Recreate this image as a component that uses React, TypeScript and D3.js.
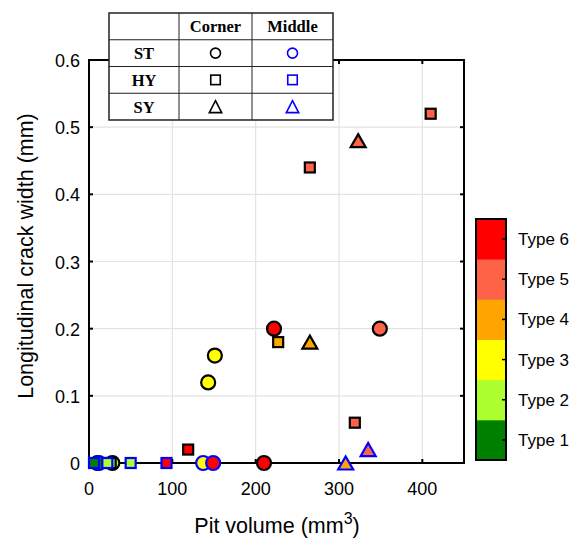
import React from 'react';
import * as d3 from 'd3';

// pit volume (mm3), crack width (mm), pit type, pit shape, pit location
const pitVolume = [10, 12, 6, 28, 26, 22, 50, 93, 119, 137, 149, 210, 143, 151, 222, 227, 265, 349, 319, 335, 308, 265, 323, 410];
const crackWidth = [0, 0, 0, 0, 0, 0, 0, 0, 0.02, 0, 0, 0, 0.12, 0.16, 0.2, 0.18, 0.18, 0.2, 0.06, 0.02, 0, 0.44, 0.48, 0.52];
const pitType = [1, 1, 1, 2, 2, 2, 2, 6, 6, 3, 6, 6, 3, 3, 6, 4, 4, 5, 5, 5, 4, 5, 5, 5];
const pitShape = ['ST', 'ST', 'HY', 'ST', 'HY', 'HY', 'HY', 'HY', 'HY', 'ST', 'ST', 'ST', 'ST', 'ST', 'ST', 'HY', 'SY', 'ST', 'HY', 'SY', 'SY', 'HY', 'SY', 'HY'];
const pitPlace = ['Corner', 'Middle', 'Middle', 'Corner', 'Corner', 'Middle', 'Middle', 'Middle', 'Corner', 'Middle', 'Middle', 'Corner', 'Corner', 'Corner', 'Corner', 'Corner', 'Corner', 'Corner', 'Corner', 'Middle', 'Middle', 'Corner', 'Corner', 'Corner'];

const typeNames = ['Type 1', 'Type 2', 'Type 3', 'Type 4', 'Type 5', 'Type 6'];
const typeColors = ['#008000', '#adff2f', '#ffff00', '#ffa500', '#ff6347', '#ff0000'];
const xTicks = [0, 100, 200, 300, 400];
const yTicks = [0, 0.1, 0.2, 0.3, 0.4, 0.5, 0.6];
const shapeRows = ['ST', 'HY', 'SY'];
const placeCols = ['Corner', 'Middle'];

const W = 586, H = 538;
const m = {left: 89, top: 60, right: 464, bottom: 463};
const font = 'Arial, "Liberation Sans", sans-serif';
const serif = '"Times New Roman", "Liberation Serif", serif';

// circle diameter d, square side s, triangle half width hw / height h
const Marker = ({kind, x, y, d, s, hw, h, fill, stroke, sw}) => {
    if (kind === 'ST') {
        return <circle cx={x} cy={y} r={d / 2} fill={fill} stroke={stroke} strokeWidth={sw}/>;
    }
    if (kind === 'HY') {
        return <rect x={x - s / 2} y={y - s / 2} width={s} height={s} fill={fill} stroke={stroke} strokeWidth={sw}/>;
    }
    const p = `M${x},${y - h / 2}L${x + hw},${y + h / 2}L${x - hw},${y + h / 2}Z`;
    return <path d={p} fill={fill} stroke={stroke} strokeWidth={sw}/>;
};

export default function App() {
    const x = d3.scaleLinear().domain([0, 450]).range([m.left, m.right]);
    const y = d3.scaleLinear().domain([0, 0.6]).range([m.bottom, m.top]);

    const cb = {x: 476, w: 30, top: 219, bottom: 460};
    const cy = d3.scaleBand().domain(typeNames).range([cb.bottom, cb.top]);

    const colX = d3.scaleOrdinal().domain(['label', ...placeCols]).range([109, 179, 252]);
    const colW = {label: 70, Corner: 73, Middle: 81};
    const rowY = d3.scaleBand().domain(['head', ...shapeRows]).range([13, 120]);

    const points = pitVolume.map((v, i) => ({
        v, w: crackWidth[i], t: pitType[i], s: pitShape[i], p: pitPlace[i]
    }));

    return (
        <svg width={W} height={H} style={{position: 'absolute', left: 0, top: 0}}>
            <rect width={W} height={H} fill="#fff"/>
            {/* grid */}
            {xTicks.slice(1).map(t => (
                <line key={'gx' + t} x1={x(t)} x2={x(t)} y1={m.top} y2={m.bottom} stroke="#e3e3e3" strokeWidth={1.2}/>
            ))}
            {yTicks.slice(1, -1).map(t => (
                <line key={'gy' + t} x1={m.left} x2={m.right} y1={y(t)} y2={y(t)} stroke="#e3e3e3" strokeWidth={1.2}/>
            ))}
            {/* ticks */}
            {xTicks.map(t => (
                <g key={'tx' + t}>
                    <line x1={x(t)} x2={x(t)} y1={m.bottom} y2={m.bottom - 4} stroke="#000" strokeWidth={2}/>
                    <line x1={x(t)} x2={x(t)} y1={m.top} y2={m.top + 4} stroke="#000" strokeWidth={2}/>
                    <text x={x(t)} y={m.bottom + 32} textAnchor="middle" fontFamily={font} fontSize={18}>{t}</text>
                </g>
            ))}
            {yTicks.map(t => (
                <g key={'ty' + t}>
                    <line x1={m.left} x2={m.left + 4} y1={y(t)} y2={y(t)} stroke="#000" strokeWidth={2}/>
                    <line x1={m.right} x2={m.right - 4} y1={y(t)} y2={y(t)} stroke="#000" strokeWidth={2}/>
                    <text x={m.left - 9} y={y(t) + 7} textAnchor="end" fontFamily={font} fontSize={18}>{t === 0 ? '0' : d3.format('.1f')(t)}</text>
                </g>
            ))}
            <rect x={m.left} y={m.top} width={m.right - m.left} height={m.bottom - m.top} fill="none" stroke="#000" strokeWidth={2}/>
            {/* points */}
            {points.map((d, i) => (
                <Marker key={i} kind={d.s} x={x(d.v)} y={y(d.w)} d={14} s={10} hw={7.5} h={13}
                        fill={typeColors[d.t - 1]} stroke={d.p === 'Corner' ? '#000' : '#0000ff'} sw={2.2}/>
            ))}
            {/* axis labels */}
            <text x={277} y={533} textAnchor="middle" fontFamily={font} fontSize={21.5}>
                Pit volume (mm<tspan dy={-9} fontSize={16}>3</tspan><tspan dy={9}>)</tspan>
            </text>
            <text transform={`translate(33,256) rotate(-90)`} textAnchor="middle" fontFamily={font} fontSize={21.5}>
                Longitudinal crack width (mm)
            </text>
            {/* colorbar */}
            {typeNames.map((n, i) => (
                <g key={n}>
                    <rect x={cb.x} y={cy(n)} width={cb.w} height={cy.bandwidth() + 0.5} fill={typeColors[i]}/>
                    <line x1={cb.x + cb.w} x2={cb.x + cb.w - 4} y1={cy(n) + cy.bandwidth() / 2} y2={cy(n) + cy.bandwidth() / 2} stroke="#000" strokeWidth={1.5}/>
                    <text x={cb.x + cb.w + 12} y={cy(n) + cy.bandwidth() / 2 + 6} fontFamily={font} fontSize={17}>{n}</text>
                </g>
            ))}
            <rect x={cb.x} y={cb.top} width={cb.w} height={cb.bottom - cb.top} fill="none" stroke="#000" strokeWidth={2}/>
            {/* shape table */}
            <rect x={109} y={13} width={224} height={107} fill="#fff" stroke="none"/>
            {shapeRows.map(r => (
                <line key={'rl' + r} x1={109} x2={333} y1={rowY(r)} y2={rowY(r)} stroke="#222" strokeWidth={1}/>
            ))}
            {placeCols.map(c => (
                <line key={'cl' + c} x1={colX(c)} x2={colX(c)} y1={13} y2={120} stroke="#222" strokeWidth={1}/>
            ))}
            <rect x={109} y={13} width={224} height={107} fill="none" stroke="#222" strokeWidth={1.5}/>
            {placeCols.map(c => (
                <text key={'h' + c} x={colX(c) + colW[c] / 2} y={rowY('head') + rowY.bandwidth() / 2 + 6}
                      textAnchor="middle" fontFamily={serif} fontWeight="bold" fontSize={16.5}>{c}</text>
            ))}
            {shapeRows.map(r => (
                <g key={'r' + r}>
                    <text x={colX('label') + colW.label / 2} y={rowY(r) + rowY.bandwidth() / 2 + 6}
                          textAnchor="middle" fontFamily={serif} fontWeight="bold" fontSize={16.5}>{r}</text>
                    {placeCols.map(c => (
                        <Marker key={c} kind={r} x={colX(c) + colW[c] / 2} y={rowY(r) + rowY.bandwidth() / 2}
                                d={10} s={9.5} hw={6.2} h={12}
                                fill="none" stroke={c === 'Corner' ? '#000' : '#0000ff'} sw={1.6}/>
                    ))}
                </g>
            ))}
        </svg>
    );
}
